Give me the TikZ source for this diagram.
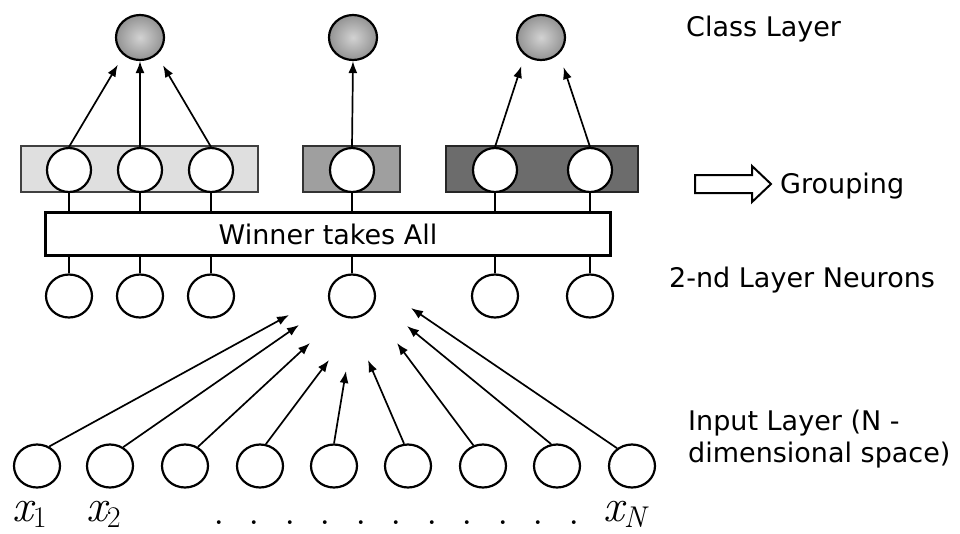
\documentclass[tikz,border=0pt]{standalone}
\usepackage{fontspec}
\newfontfamily\dvs{DejaVu Sans}
\usetikzlibrary{arrows.meta,shapes.geometric}
\newcommand\xsub[2]{{\itshape #1}\raisebox{-6pt}{\fontsize{30}{32}\selectfont #2}}
\begin{document}
\begin{tikzpicture}[x=1pt,y=-1pt,
  lbl/.style={font=\dvs\fontsize{27}{32}\selectfont, inner sep=0pt, anchor=base west, align=left},
  inneuron/.style={ellipse, draw, line width=2.2pt, fill=white, minimum width=46pt, minimum height=43pt, inner sep=0pt},
  gneuron/.style={circle, draw, line width=2.2pt, fill=white, minimum size=44pt, inner sep=0pt},
  cneuron/.style={ellipse, draw, line width=2.2pt, minimum width=48pt, minimum height=45pt, inner sep=0pt, inner color=gray!35, outer color=gray!85},
  grp/.style={draw, line width=2pt, minimum height=46pt, inner sep=0pt},
  arr/.style={line width=1.7pt, -{Latex[length=12pt,width=9pt]}},
  link/.style={line width=2pt},
  xlab/.style={font=\fontsize{46}{50}\selectfont, inner sep=0pt, anchor=base west}
]
\useasboundingbox (0,0) rectangle (960,533);
% class layer
\node[cneuron] (c1) at (140,37.5) {};
\node[cneuron] (c2) at (353,37.5) {};
\node[cneuron] (c3) at (541,37.5) {};
% group boxes
\node[grp, fill=gray!25, draw=black!75, minimum width=237pt] (b1) at (139.5,169) {};
\node[grp, fill=gray!75, draw=black!80, minimum width=97pt] (b2) at (351.5,169) {};
\node[grp, fill=gray!85!black, draw=black!85, minimum width=192pt] (b3) at (542,169) {};
% group neurons
\foreach \n/\x in {1/69,2/140,3/211,4/352,5/495,6/590}{
  \node[gneuron] (g\n) at (\x,170) {};
}
% winner takes all
\node[draw, line width=3pt, fill=white, minimum width=565pt, minimum height=43pt, inner sep=0pt,
      font=\dvs\fontsize{27}{32}\selectfont] (wta) at (328,234) {Winner takes All};
% second layer neurons
\foreach \n/\x in {1/69,2/140,3/211,4/352,5/495,6/590}{
  \node[inneuron] (s\n) at (\x,296) {};
  \draw[link] (g\n) -- (g\n |- wta.north);
  \draw[link] (wta.south -| s\n) -- (s\n);
}
% class arrows
\draw[arr, shorten >=11pt] (g1.north) -- (c1.227);
\draw[arr] (g2.north) -- (c1.south);
\draw[arr, shorten >=12pt] (g3.north) -- (c1.314);
\draw[arr] (g4.north) -- (c2.south);
\draw[arr, shorten >=11pt] (g5.north) -- (c3.228);
\draw[arr, shorten >=14pt] (g6.north) -- (c3.318);
% input layer
\foreach \n/\x in {1/37,2/110,3/185,4/260,5/334,6/408,7/483,8/557,9/632}{
  \node[inneuron] (i\n) at (\x,466) {};
}
\coordinate (t1) at (289,315);
\coordinate (t2) at (299,325);
\coordinate (t3) at (310,343);
\coordinate (t4) at (329,360);
\coordinate (t5) at (346,371);
\coordinate (t6) at (368,360);
\coordinate (t7) at (397,343);
\coordinate (t8) at (407,326);
\coordinate (t9) at (411,308);
\draw[arr] (i1.58) -- (t1);
\draw[arr] (i2.55) -- (t2);
\draw[arr] (i3.56) -- (t3);
\draw[arr] (i4.75) -- (t4);
\draw[arr] (i5.90) -- (t5);
\draw[arr] (i6.100) -- (t6);
\draw[arr] (i7.115) -- (t7);
\draw[arr] (i8.105) -- (t8);
\draw[arr] (i9.130) -- (t9);
% input labels
\node[xlab] (x1) at (12,521) {\xsub{x}{1}};
\node[xlab] (x2) at (86,521) {\xsub{x}{2}};
\node[xlab] (dots) at (213,524) {.\hspace{24pt}.\hspace{24pt}.\hspace{24pt}.\hspace{24pt}.\hspace{24pt}.\hspace{24pt}.\hspace{24pt}.\hspace{24pt}.\hspace{24pt}.\hspace{24pt}.};
\node[xlab] (xN) at (603,521) {\xsub{x}{\itshape N}};
% right-hand labels
\node[lbl] (lclass) at (686,36) {Class Layer};
\draw[line width=2pt, fill=white] (695,175) -- (752,175) -- (752,166) -- (771,184) -- (752,202) -- (752,193) -- (695,193) -- cycle;
\node[lbl] (lgroup) at (780,193) {Grouping};
\node[lbl] (lsecond) at (669,287) {2-nd Layer Neurons};
\node[lbl] (linput) at (688,462) {Input Layer (N -\\dimensional space)};
\end{tikzpicture}
\end{document}
